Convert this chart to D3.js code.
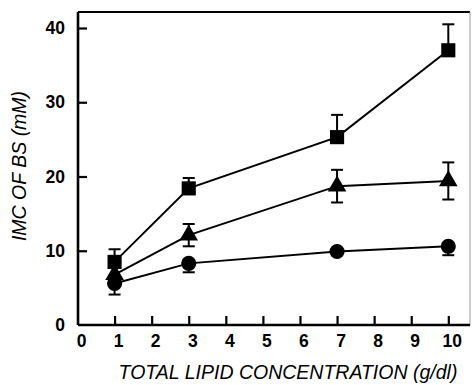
<!DOCTYPE html>
<html>
<head>
<meta charset="utf-8">
<script src="https://cdn.jsdelivr.net/npm/d3@7"></script>
<style>
  html, body { margin: 0; padding: 0; background: #fff; }
  svg { display: block; }
  text { font-family: "Liberation Sans", Arial, Helvetica, sans-serif; fill: #000; }
</style>
</head>
<body>
<svg id="chart" width="472" height="385"></svg>
<script>
// ---- Data ----
const concentrations = [1, 3, 7, 10];
const squareValues   = [8.5, 18.4, 25.3, 37.0];
const squareErrUp    = [1.7, 1.4, 3.0, 3.5];
const triangleValues = [6.8, 12.1, 18.7, 19.4];
const triangleErr    = [0, 1.5, 2.2, 2.5];
const circleValues   = [5.6, 8.3, 9.9, 10.6];
const circleErrDown  = [1.5, 1.2, 0.5, 1.2];
const xTicks = [0, 1, 2, 3, 4, 5, 6, 7, 8, 9, 10];
const yTicks = [0, 10, 20, 30, 40];
const xLabel = "TOTAL LIPID CONCENTRATION (g/dl)";
const yLabel = "IMC OF BS (mM)";

// ---- Layout ----
const svg = d3.select("#chart");
const mLeft = 78, mRight = 470, mTop = 12, mBottom = 325;

const x = d3.scaleLinear().domain([0, 10]).range([77.5, 448.3]);
const y = d3.scaleLinear().domain([0, 40]).range([325, 28]);

// frame
svg.append("line").attr("x1", mLeft).attr("x2", mRight).attr("y1", mTop).attr("y2", mTop)
  .attr("stroke", "#000").attr("stroke-width", 2.2);
svg.append("line").attr("x1", mRight).attr("x2", mRight).attr("y1", mTop).attr("y2", mBottom)
  .attr("stroke", "#999").attr("stroke-width", 1);

// axes
const xAxis = d3.axisBottom(x).tickValues(xTicks).tickSizeInner(-9).tickSizeOuter(0).tickPadding(13);
const gx = svg.append("g").attr("transform", `translate(0,${mBottom})`).call(xAxis);
gx.select(".domain").attr("d", `M${mLeft},0H${mRight}`).attr("stroke-width", 2.6);
gx.selectAll(".tick line").attr("stroke-width", 2.2);
gx.selectAll(".tick").filter(d => d === 0).select("line").remove();
gx.selectAll(".tick text").attr("font-size", 17.5).attr("dx", 3.5).attr("dy", "0.5em");

const yAxis = d3.axisLeft(y).tickValues(yTicks).tickSizeInner(-9).tickSizeOuter(0).tickPadding(13);
const gy = svg.append("g").attr("transform", `translate(${mLeft},0)`).call(yAxis);
gy.select(".domain").attr("d", `M0,${mTop}V${mBottom}`).attr("stroke-width", 2.6);
gy.selectAll(".tick line").attr("stroke-width", 2.2);
gy.selectAll(".tick").filter(d => d === 0).select("line").remove();
gy.selectAll(".tick text").attr("font-size", 17.5).attr("font-weight", "bold");
gx.selectAll(".tick text").attr("font-weight", "bold");
svg.selectAll(".domain, .tick line").attr("stroke", "#000");

// axis labels
svg.append("text").attr("x", 288).attr("y", 379).attr("text-anchor", "middle")
  .attr("font-size", 19.5).attr("font-style", "italic").text(xLabel);
svg.append("text").attr("transform", "translate(26,166) rotate(-90)").attr("text-anchor", "middle")
  .attr("font-size", 19.5).attr("font-style", "italic").text(yLabel);

// ---- Series ----
const line = d3.line().x(d => x(d[0])).y(d => y(d[1]));
const capW = 6;

function drawErr(vals, up, down) {
  concentrations.forEach((c, i) => {
    const cx = x(c);
    if (up && up[i] > 0) {
      svg.append("line").attr("x1", cx).attr("x2", cx).attr("y1", y(vals[i])).attr("y2", y(vals[i] + up[i]))
        .attr("stroke", "#000").attr("stroke-width", 2);
      svg.append("line").attr("x1", cx - capW).attr("x2", cx + capW).attr("y1", y(vals[i] + up[i])).attr("y2", y(vals[i] + up[i]))
        .attr("stroke", "#000").attr("stroke-width", 2);
    }
    if (down && down[i] > 0) {
      svg.append("line").attr("x1", cx).attr("x2", cx).attr("y1", y(vals[i])).attr("y2", y(vals[i] - down[i]))
        .attr("stroke", "#000").attr("stroke-width", 2);
      svg.append("line").attr("x1", cx - capW).attr("x2", cx + capW).attr("y1", y(vals[i] - down[i])).attr("y2", y(vals[i] - down[i]))
        .attr("stroke", "#000").attr("stroke-width", 2);
    }
  });
}

function series(vals) { return concentrations.map((c, i) => [c, vals[i]]); }

// lines
[circleValues, triangleValues, squareValues].forEach(v => {
  svg.append("path").datum(series(v)).attr("d", line)
    .attr("fill", "none").attr("stroke", "#000").attr("stroke-width", 2);
});

// error bars
drawErr(squareValues, squareErrUp, null);
drawErr(triangleValues, triangleErr, triangleErr);
drawErr(circleValues, null, circleErrDown);

// markers
const sqSym = d3.symbol().type(d3.symbolSquare).size(200);
const triSym = d3.symbol().type(d3.symbolTriangle).size(150);
const cirSym = d3.symbol().type(d3.symbolCircle).size(180);

svg.append("g").selectAll("path").data(series(circleValues)).join("path")
  .attr("d", cirSym).attr("transform", d => `translate(${x(d[0])},${y(d[1])})`).attr("fill", "#000");
svg.append("g").selectAll("path").data(series(triangleValues)).join("path")
  .attr("d", triSym).attr("transform", d => `translate(${x(d[0])},${y(d[1])})`).attr("fill", "#000");
svg.append("g").selectAll("path").data(series(squareValues)).join("path")
  .attr("d", sqSym).attr("transform", d => `translate(${x(d[0])},${y(d[1])})`).attr("fill", "#000");
</script>
</body>
</html>
